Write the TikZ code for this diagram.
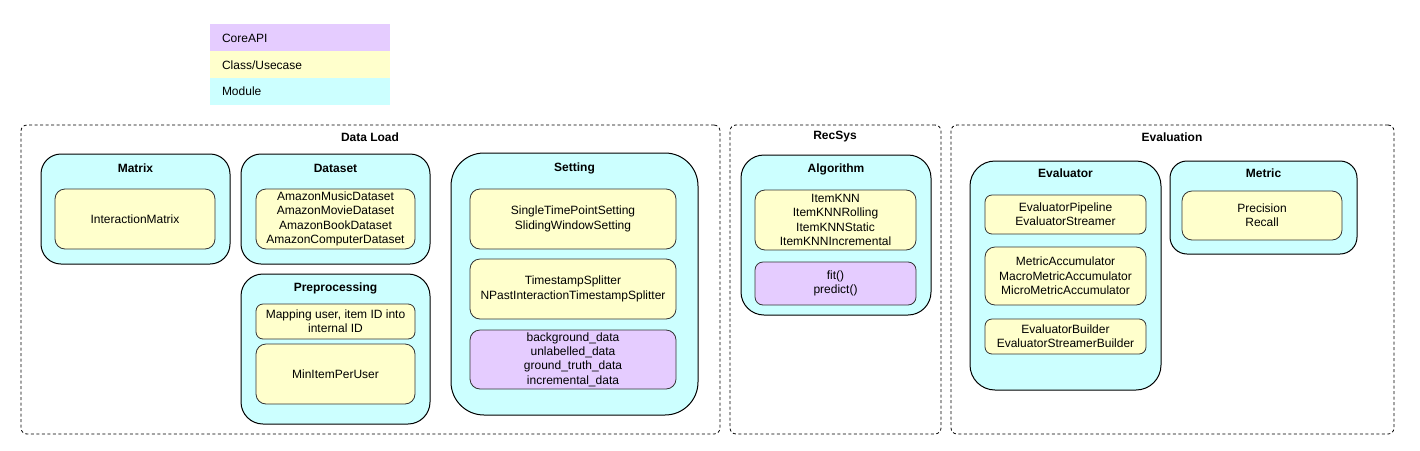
\documentclass[tikz,border=0pt]{standalone}
\usepackage{fontspec}
\setmainfont{Liberation Sans}
\definecolor{coreapi}{HTML}{E5CCFF}
\definecolor{usecase}{HTML}{FFFFCC}
\definecolor{modcol}{HTML}{CCFFFF}
\newcommand\bx[7]{%
  \pgfmathsetmacro\bxw{#4-#2}\pgfmathsetmacro\bxh{#5-#3}%
  \node[#6, minimum width=\bxw pt, minimum height=\bxh pt] (#1) at ({(#2+#4)/2},{(#3+#5)/2}) {#7};}
\tikzset{
  base/.style={inner sep=0pt, outer sep=0pt, align=center, font=\fontsize{12}{14.3}\selectfont},
  group/.style={base, draw=black, dashed, dash pattern=on 3pt off 2.5pt, line width=0.8pt, rounded corners=6pt},
  modbox/.style={base, draw=black, fill=modcol, line width=1pt},
  usebox/.style={base, draw=black!80, fill=usecase, line width=0.8pt, rounded corners=#1},
  usebox/.default=10pt,
  apibox/.style={base, draw=black!80, fill=coreapi, line width=0.8pt, rounded corners=#1},
  apibox/.default=10pt,
  legbox/.style={base},
  ttl/.style={base, font=\fontsize{12}{14.3}\selectfont\bfseries},
  legtxt/.style={base, anchor=west}
}
\begin{document}
\begin{tikzpicture}[x=1pt,y=-1pt]
\useasboundingbox[fill=white] (0,0) rectangle (1420,450);
% legend
\bx{lapi}{210}{24}{390}{51}{legbox, fill=coreapi}{}
\bx{luse}{210}{51}{390}{78}{legbox, fill=usecase}{}
\bx{lmod}{210}{78}{390}{105}{legbox, fill=modcol}{}
\node[legtxt] (tapi) at (222,38) {CoreAPI};
\node[legtxt] (tuse) at (222,65) {Class/Usecase};
\node[legtxt] (tmod) at (222,91) {Module};
% groups
\bx{gdl}{21}{125}{720}{434}{group}{}
\bx{grs}{730}{125}{941}{434}{group}{}
\bx{gev}{951}{125}{1394}{434}{group}{}
\node[ttl] (tdl) at (370,137) {Data Load};
\node[ttl] (trs) at (835,137) {RecSys};
\node[ttl] (tev) at (1172,137) {Evaluation};
% Matrix
\bx{mmat}{41}{154}{230}{264}{modbox, rounded corners=20pt}{}
\node[ttl] (tmat) at (135.5,168) {Matrix};
\bx{imat}{55}{189}{215}{249}{usebox}{InteractionMatrix}
% Dataset
\bx{mds}{241}{154}{430}{264}{modbox, rounded corners=20pt}{}
\node[ttl] (tds) at (335.5,168) {Dataset};
\bx{ids}{256}{189}{415}{249}{usebox}{AmazonMusicDataset\\AmazonMovieDataset\\AmazonBookDataset\\AmazonComputerDataset}
% Preprocessing
\bx{mpp}{241}{274}{430}{424}{modbox, rounded corners=22pt}{}
\node[ttl] (tpp) at (335.5,288) {Preprocessing};
\bx{ipp1}{256}{304}{415}{339}{usebox=7pt}{Mapping user, item ID into\\internal ID}
\bx{ipp2}{256}{344}{415}{404}{usebox}{MinItemPerUser}
% Setting
\bx{mset}{451}{153}{698}{415}{modbox, rounded corners=33pt}{}
\node[ttl] (tset) at (574.5,168) {Setting};
\bx{iset1}{470}{189}{676}{249}{usebox}{SingleTimePointSetting\\SlidingWindowSetting}
\bx{iset2}{470}{259}{676}{319}{usebox}{TimestampSplitter\\NPastInteractionTimestampSplitter}
\bx{iset3}{470}{330}{676}{389}{apibox}{background\_data\\unlabelled\_data\\ground\_truth\_data\\incremental\_data}
% Algorithm
\bx{malg}{741}{155}{931}{315}{modbox, rounded corners=23pt}{}
\node[ttl] (talg) at (836,169) {Algorithm};
\bx{ialg1}{755}{190}{916}{250}{usebox}{ItemKNN\\ItemKNNRolling\\ItemKNNStatic\\ItemKNNIncremental}
\bx{ialg2}{755}{262}{916}{305}{apibox=8pt}{fit()\\predict()}
% Evaluator
\bx{meval}{970}{161}{1161}{390}{modbox, rounded corners=25pt}{}
\node[ttl] (teval) at (1065.5,173) {Evaluator};
\bx{iev1}{985}{195}{1146}{234}{usebox=7pt}{EvaluatorPipeline\\EvaluatorStreamer}
\bx{iev2}{985}{247}{1146}{305}{usebox}{MetricAccumulator\\MacroMetricAccumulator\\MicroMetricAccumulator}
\bx{iev3}{985}{319}{1146}{354}{usebox=7pt}{EvaluatorBuilder\\EvaluatorStreamerBuilder}
% Metric
\bx{mmet}{1170}{161}{1357}{254}{modbox, rounded corners=17pt}{}
\node[ttl] (tmet) at (1263.5,173) {Metric};
\bx{imet}{1182}{191}{1342}{240}{usebox}{Precision\\Recall}
\end{tikzpicture}
\end{document}
